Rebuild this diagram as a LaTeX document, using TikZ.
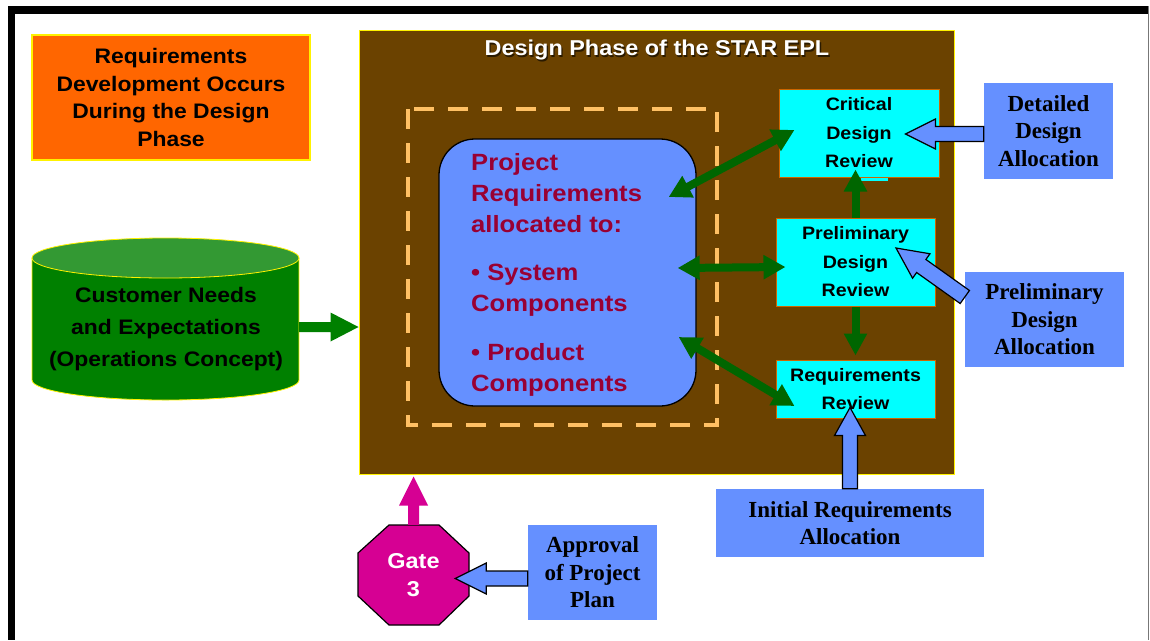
\documentclass[tikz,border=0pt]{standalone}
\usepackage{fontspec}
\setmainfont{Liberation Sans}[FakeStretch=1.09]
\newfontfamily\serifb{Liberation Serif}
\usetikzlibrary{arrows.meta,calc}
\definecolor{brownbg}{HTML}{6B4200}
\definecolor{orangebg}{HTML}{FF6600}
\definecolor{bluebg}{HTML}{6590FF}
\definecolor{cyanbg}{HTML}{00FFFF}
\definecolor{cyanedge}{HTML}{CC6600}
\definecolor{darkgreen}{HTML}{006600}
\definecolor{custgreen}{HTML}{008000}
\definecolor{custtop}{HTML}{339933}
\definecolor{magentabg}{HTML}{D60093}
\definecolor{dashorange}{HTML}{FFC064}
\definecolor{darkred}{HTML}{990033}
\definecolor{framegray}{HTML}{777777}
\definecolor{shadowc}{HTML}{2A1A00}
\newcommand\fatarrow[6][]{%
  \coordinate (faS) at (#2);
  \coordinate (faT) at (#3);
  \coordinate (faB) at ($(faT)!#6!(faS)$);
  \path[#1] ($(faS)!#4!90:(faT)$) -- ($(faB)!#4!90:(faT)$) -- ($(faB)!#5!90:(faT)$) -- (faT)
    -- ($(faB)!#5!-90:(faT)$) -- ($(faB)!#4!-90:(faT)$) -- ($(faS)!#4!-90:(faT)$) -- cycle;
}
\tikzset{
  plainbox/.style={inner sep=0pt, align=center},
  reviewbox/.style={plainbox, fill=cyanbg, draw=cyanedge, line width=1pt,
     font=\fontsize{18}{28.5}\selectfont\bfseries},
  allocbox/.style={plainbox, fill=bluebg, font=\serifb\fontsize{23}{27.5}\selectfont\bfseries},
  greenarrow/.style={draw=darkgreen, line width=8pt,
     {Triangle[length=22pt,width=23pt]}-{Triangle[length=22pt,width=23pt]}},
  greenone/.style={draw=darkgreen, line width=8pt, -{Triangle[length=22pt,width=22pt]}},
  hollow/.style={fill=bluebg, draw=black, line width=1.2pt, line join=miter},
  titlefont/.style={plainbox, font=\fontsize{21.5}{24}\selectfont\bfseries},
}
\begin{document}
\begin{tikzpicture}[x=1pt,y=-1pt]
\useasboundingbox (0,0) rectangle (1150,640);
\fill[white] (0,0) rectangle (1150,640);
% frame
\draw[framegray, line width=1pt] (8,6.5) -- (1148.5,6.5) -- (1148.5,640);
\draw[black, line width=8pt] (8,10) -- (1148,10);
\draw[black, line width=7pt] (11.5,6) -- (11.5,640);

% orange note
\node[plainbox, fill=orangebg, draw=yellow, line width=1.2pt, minimum width=278pt, minimum height=125pt,
      font=\fontsize{21}{27.5}\selectfont\bfseries] (note) at (171,97.5)
  {Requirements\\Development Occurs\\During the Design\\Phase};

% design phase box
\node[plainbox, fill=brownbg, draw=yellow, line width=1pt, minimum width=595pt, minimum height=444pt] (phase) at (656.5,252) {};
\node[titlefont, text=shadowc] (titleshadow) at (658.3,51.5) {Design Phase of the STAR EPL};
\node[titlefont, text=white] (title) at (657,50) {Design Phase of the STAR EPL};

% dashed frame
\draw[dashorange, line width=4pt, dash pattern=on 20pt off 14pt] (408,109) rectangle (717,425);

% requirements rounded box
\node[plainbox, fill=bluebg, draw=black, line width=1.3pt, rounded corners=36pt,
      minimum width=257pt, minimum height=267pt] (reqbox) at (567.5,272.5) {};
\node[inner sep=0pt, align=left, anchor=west, text=darkred, font=\fontsize{23.5}{31}\selectfont\bfseries] (reqtext) at (471,274.5)
  {Project\\Requirements\\allocated to:\\[17pt]\textbullet\ System\\Components\\[18pt]\textbullet\ Product\\Components};

% review boxes
\node[reviewbox, minimum width=160pt, minimum height=88pt] (cdr) at (859,133) {Critical\\Design\\Review};
\fill[cyanbg] (861,177.5) rectangle (888,181);
\node[reviewbox, minimum width=159pt, minimum height=88pt] (pdr) at (855.5,262) {Preliminary\\Design\\Review};
\node[reviewbox, minimum width=159pt, minimum height=58pt] (rr) at (855.5,389) {Requirements\\Review};

% allocation boxes
\node[allocbox, minimum width=129pt, minimum height=96pt] (dda) at (1048.5,131) {Detailed\\Design\\Allocation};
\node[allocbox, minimum width=159pt, minimum height=95pt] (pda) at (1044.5,319.5) {Preliminary\\Design\\Allocation};
\node[allocbox, minimum width=268pt, minimum height=68pt] (ira) at (850,523) {Initial Requirements\\Allocation};
\node[allocbox, minimum width=129pt, minimum height=95pt] (app) at (592.5,572.5) {Approval\\of Project\\Plan};

% customer cylinder
\fill[custgreen] (32,258) rectangle (299,380);
\fill[custgreen] (165.5,380) ellipse [x radius=133.5, y radius=20];
\draw[yellow, line width=0.8pt] (32,258) -- (32,380) arc[start angle=180, end angle=0, x radius=133.5, y radius=20] -- (299,258);
\filldraw[fill=custtop, draw=yellow, line width=0.8pt] (165.5,258) ellipse [x radius=133.5, y radius=20];
\node[plainbox, font=\fontsize{21}{32}\selectfont\bfseries] (cust) at (166,329)
  {Customer Needs\\and Expectations\\(Operations Concept)};
\coordinate (cylE) at (299,327);

% gate octagon
\node[plainbox, minimum width=111pt, minimum height=100pt] (gate) at (413.5,575) {};
\filldraw[fill=magentabg, draw=black, line width=1.2pt]
  (389,525) -- (439,525) -- (469,553) -- (469,596) -- (439,625) -- (389,625) -- (358,596) -- (358,553) -- cycle;
\node[plainbox, text=white, font=\fontsize{21.5}{28}\selectfont\bfseries] (gatetext) at (gate.center) {Gate\\3};

% solid fat arrows
\fatarrow[fill=custgreen]{cylE}{phase.west |- cylE}{5pt}{14.5pt}{28pt}
\fatarrow[fill=magentabg]{gate.north}{$(gate.north |- phase.south)+(0,2)$}{5.5pt}{14.5pt}{29pt}

% hollow blue arrows
\fatarrow[hollow]{$(dda.west)+(0,3)$}{$(cdr.east)+(-34,1)$}{7.5pt}{15pt}{30pt}
\fatarrow[hollow]{$(pda.west)+(0,-22.5)$}{$(pdr.center)+(40.5,-14)$}{8pt}{15pt}{31pt}
\fatarrow[hollow]{ira.north}{$(ira.north |- rr.south)+(0,-11)$}{7.5pt}{15.5pt}{28pt}
\fatarrow[hollow]{$(app.west)+(0,6)$}{$(gate.east)+(-14,3.5)$}{7.5pt}{15.5pt}{31pt}

% green connectors
\draw[greenarrow] ($(reqbox.east)+(-28,-75.5)$) -- ($(cdr.west)+(16,-3)$);
\draw[greenarrow] ($(reqbox.east)+(-19,-4.5)$) -- ($(pdr.west)+(10,5)$);
\draw[greenarrow] ($(reqbox.east)+(-18,64.5)$) -- ($(rr.west)+(19,17)$);
\draw[greenone] (pdr.north) -- ($(pdr.north |- cdr.south)+(0,-8)$);
\draw[greenone] (pdr.south) -- ($(rr.north)+(0,-4)$);
\end{tikzpicture}
\end{document}
